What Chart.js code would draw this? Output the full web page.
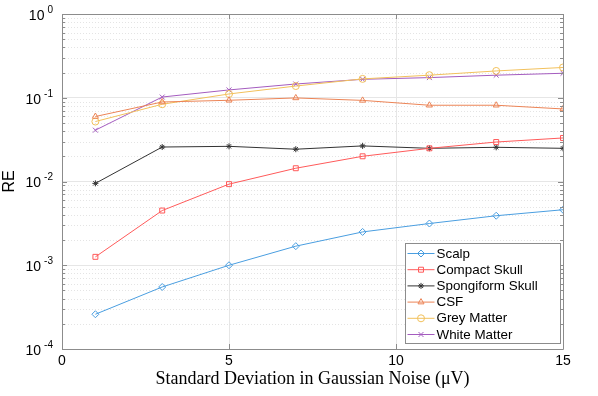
<!DOCTYPE html>
<html>
<head>
<meta charset="utf-8">
<script src="https://cdn.jsdelivr.net/npm/chart.js@4/dist/chart.umd.min.js"></script>
<style>
html,body{margin:0;padding:0;background:#fff;}
#wrap{width:598px;height:396px;position:relative;}
</style>
</head>
<body>
<div id="wrap"><canvas id="c" width="598" height="396"></canvas></div>
<script>
const noiseLevels = [1, 3, 5, 7, 9, 11, 13, 15];
const scalp      = [0.00026, 0.00055, 0.00100, 0.00169, 0.00250, 0.00315, 0.00390, 0.00460];
const compact    = [0.00126, 0.00450, 0.00930, 0.01440, 0.02000, 0.02490, 0.02960, 0.03310];
const spongiform = [0.00950, 0.02580, 0.02630, 0.02430, 0.02660, 0.02490, 0.02560, 0.02490];
const csf        = [0.0597, 0.0890, 0.0933, 0.0995, 0.0930, 0.0814, 0.0814, 0.0735];
const grey       = [0.0520, 0.0836, 0.1110, 0.1380, 0.1680, 0.1860, 0.2090, 0.2300];
const white      = [0.0410, 0.1020, 0.1240, 0.1460, 0.1660, 0.1740, 0.1860, 0.1960];
const seriesNames = ['Scalp', 'Compact Skull', 'Spongiform Skull', 'CSF', 'Grey Matter', 'White Matter'];
const xTicks = [0, 5, 10, 15];
const yDecades = [-4, -3, -2, -1, 0];

const colors = ['#4a9ee0', '#ff5a5a', '#333333', '#ec8456', '#f2c15c', '#a45cbf'];
const styles = ['rectRot', 'rect', 'star', 'triangle', 'circle', 'crossRot'];
const seriesData = [scalp, compact, spongiform, csf, grey, white];

const datasets = seriesNames.map((n, i) => ({
  label: n,
  data: noiseLevels.map((x, j) => ({x: x, y: seriesData[i][j]})),
  borderColor: colors[i],
  backgroundColor: 'rgba(0,0,0,0)',
  pointBorderColor: colors[i],
  pointBackgroundColor: 'rgba(0,0,0,0)',
  pointStyle: styles[i],
  pointRadius: styles[i] === 'star' ? 3 : 3.5,
  pointBorderWidth: 1,
  borderWidth: 1,
  tension: 0,
  fill: false
}));

function isDecade(v) {
  const l = Math.log10(v);
  return Math.abs(l - Math.round(l)) < 1e-9;
}

const AXIS = '#8c8c8c';
const SANS = '"Liberation Sans", Arial, sans-serif';

const framePlugin = {
  id: 'frame',
  beforeDatasetsDraw(chart) {
    const {ctx, chartArea: a, scales} = chart;
    const ys = scales.y;
    ctx.save();
    ctx.strokeStyle = '#e4e4e4';
    ctx.lineWidth = 1;
    ctx.setLineDash([1, 2]);
    ys.ticks.forEach(t => {
      if (isDecade(t.value)) return;
      const py = Math.round(ys.getPixelForValue(t.value)) + 0.5;
      ctx.beginPath(); ctx.moveTo(a.left, py); ctx.lineTo(a.right, py); ctx.stroke();
    });
    ctx.restore();
  },
  afterDraw(chart) {
    const {ctx, chartArea: a, scales} = chart;
    const ys = scales.y, xs = scales.x;
    ctx.save();
    ctx.strokeStyle = AXIS;
    ctx.lineWidth = 1;
    ctx.setLineDash([]);
    ctx.beginPath();
    ctx.rect(Math.round(a.left) + 0.5, Math.round(a.top) + 0.5, Math.round(a.right - a.left), Math.round(a.bottom - a.top));
    ctx.stroke();
    ys.ticks.forEach(t => {
      const py = Math.round(ys.getPixelForValue(t.value)) + 0.5;
      const len = isDecade(t.value) ? 5 : 3;
      ctx.beginPath();
      ctx.moveTo(a.left, py); ctx.lineTo(a.left + len, py);
      ctx.moveTo(a.right, py); ctx.lineTo(a.right - len, py);
      ctx.stroke();
    });
    xs.ticks.forEach(t => {
      const px = Math.round(xs.getPixelForValue(t.value)) + 0.5;
      ctx.beginPath();
      ctx.moveTo(px, a.bottom); ctx.lineTo(px, a.bottom - 5);
      ctx.moveTo(px, a.top); ctx.lineTo(px, a.top + 5);
      ctx.stroke();
    });
    // y tick labels: 10 with superscript exponent
    ctx.fillStyle = '#000';
    ctx.textBaseline = 'middle';
    ctx.textAlign = 'right';
    const rightEdge = a.left - 9;
    yDecades.forEach(e => {
      const py = ys.getPixelForValue(Math.pow(10, e));
      const ex = String(e);
      ctx.font = '10px ' + SANS;
      const w = ctx.measureText(ex).width;
      ctx.fillText(ex, rightEdge, py - 4);
      ctx.font = '14px ' + SANS;
      ctx.fillText('10', rightEdge - w - 3, py + 2);
    });
    // legend
    const bx = 405.5, by = 243.5, bw = 155, bh = 100;
    ctx.fillStyle = '#ffffff';
    ctx.fillRect(bx, by, bw, bh);
    ctx.strokeStyle = AXIS;
    ctx.strokeRect(bx, by, bw, bh);
    ctx.font = '13.4px ' + SANS;
    ctx.textBaseline = 'middle';
    ctx.textAlign = 'left';
    chart.data.datasets.forEach((ds, i) => {
      const yy = by + 10 + i * 16.2;
      ctx.strokeStyle = ds.borderColor;
      ctx.lineWidth = 1;
      ctx.beginPath(); ctx.moveTo(bx + 2, yy); ctx.lineTo(bx + 29, yy); ctx.stroke();
      if (Chart.helpers && Chart.helpers.drawPoint) {
        ctx.fillStyle = 'rgba(0,0,0,0)';
        Chart.helpers.drawPoint(ctx, {pointStyle: ds.pointStyle, radius: ds.pointStyle === 'star' ? 3 : 3.5, rotation: 0, borderWidth: 1}, bx + 15.5, yy);
      }
      ctx.fillStyle = '#000';
      ctx.fillText(ds.label, bx + 31, yy + 0.5);
    });
    ctx.restore();
  }
};

new Chart(document.getElementById('c'), {
  type: 'line',
  data: {datasets: datasets},
  plugins: [framePlugin],
  options: {
    responsive: false,
    animation: false,
    devicePixelRatio: 1,
    layout: {padding: {left: 0, right: 35, top: 14, bottom: 6}},
    plugins: {legend: {display: false}, tooltip: {enabled: false}},
    scales: {
      x: {
        type: 'linear',
        min: 0, max: 15,
        afterBuildTicks: s => { s.ticks = xTicks.map(v => ({value: v})); },
        afterFit: s => { s.height = 41; },
        grid: {color: '#e6e6e6', drawTicks: false},
        border: {display: false},
        ticks: {
          padding: 4,
          color: '#000',
          font: {family: SANS, size: 14}
        },
        title: {
          display: true,
          text: 'Standard Deviation in Gaussian Noise (\u03BCV)',
          color: '#000',
          padding: {top: 0, bottom: 0},
          font: {family: '"Liberation Serif", "Times New Roman", serif', size: 18}
        }
      },
      y: {
        type: 'logarithmic',
        min: 1e-4, max: 1,
        afterBuildTicks: s => {
          const t = [];
          for (let e = -4; e <= -1; e++) {
            for (let m = 1; m <= 9; m++) t.push({value: Number((m * Math.pow(10, e)).toPrecision(3))});
          }
          t.push({value: 1});
          s.ticks = t;
        },
        afterFit: s => { s.width = 62; },
        grid: {
          drawTicks: false,
          color: ctx => (ctx.tick && isDecade(ctx.tick.value)) ? '#e6e6e6' : 'rgba(0,0,0,0)'
        },
        border: {display: false},
        ticks: {display: false, autoSkip: false},
        title: {
          display: true,
          text: 'RE',
          color: '#000',
          padding: {top: 0, bottom: 2},
          font: {family: SANS, size: 16}
        }
      }
    }
  }
});
</script>
</body>
</html>
